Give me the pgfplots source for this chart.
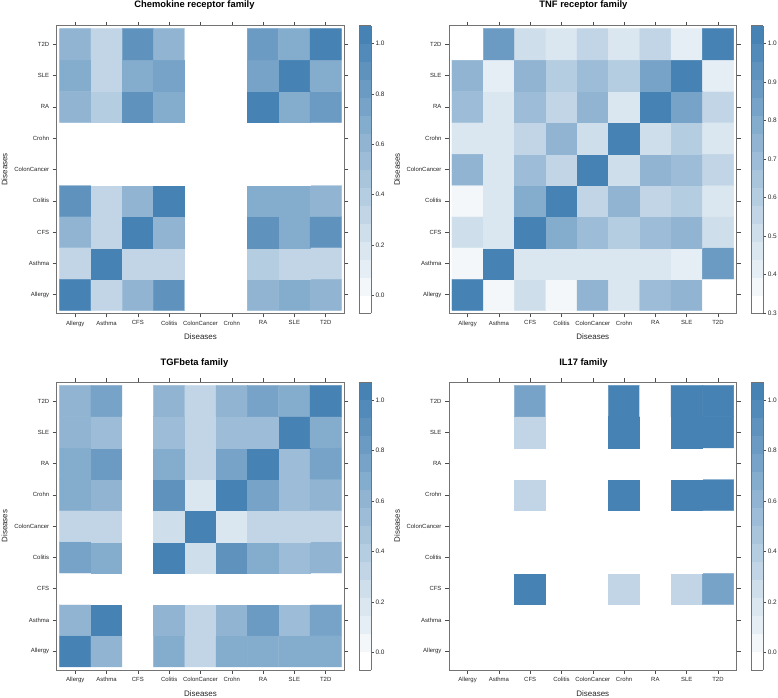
\documentclass[border=0pt]{standalone}
\usepackage{fontspec}
\setmainfont{Liberation Sans}
\usepackage{pgfplots}
\pgfplotsset{compat=1.18}
\usepackage{pgfplotstable}

% NA cells are given the lowest value (white level)
\pgfplotstableread{
x y v
0 0 1.00
1 0 0.30
2 0 0.60
3 0 0.90
4 0 -0.05
5 0 -0.05
6 0 0.60
7 0 0.65
8 0 0.60
0 1 0.30
1 1 1.00
2 1 0.30
3 1 0.35
4 1 -0.05
5 1 -0.05
6 1 0.40
7 1 0.35
8 1 0.35
0 2 0.62
1 2 0.30
2 2 1.00
3 2 0.62
4 2 -0.05
5 2 -0.05
6 2 0.90
7 2 0.70
8 2 0.88
0 3 0.90
1 3 0.35
2 3 0.62
3 3 1.00
4 3 -0.05
5 3 -0.05
6 3 0.65
7 3 0.70
8 3 0.60
0 4 -0.05
1 4 -0.05
2 4 -0.05
3 4 -0.05
4 4 -0.05
5 4 -0.05
6 4 -0.05
7 4 -0.05
8 4 -0.05
0 5 -0.05
1 5 -0.05
2 5 -0.05
3 5 -0.05
4 5 -0.05
5 5 -0.05
6 5 -0.05
7 5 -0.05
8 5 -0.05
0 6 0.60
1 6 0.40
2 6 0.88
3 6 0.65
4 6 -0.05
5 6 -0.05
6 6 1.00
7 6 0.70
8 6 0.82
0 7 0.65
1 7 0.35
2 7 0.68
3 7 0.72
4 7 -0.05
5 7 -0.05
6 7 0.72
7 7 1.00
8 7 0.68
0 8 0.60
1 8 0.35
2 8 0.88
3 8 0.60
4 8 -0.05
5 8 -0.05
6 8 0.82
7 8 0.68
8 8 1.00
}\chemo

\pgfplotstableread{
x y v
0 0 1.00
1 0 0.38
2 0 0.53
3 0 0.37
4 0 0.76
5 0 0.44
6 0 0.68
7 0 0.72
8 0 0.33
0 1 0.38
1 1 1.00
2 1 0.48
3 1 0.48
4 1 0.48
5 1 0.44
6 1 0.46
7 1 0.42
8 1 0.88
0 2 0.53
1 2 0.48
2 2 1.00
3 2 0.78
4 2 0.70
5 2 0.58
6 2 0.68
7 2 0.72
8 2 0.52
0 3 0.37
1 3 0.48
2 3 0.78
3 3 1.00
4 3 0.55
5 3 0.76
6 3 0.55
7 3 0.60
8 3 0.48
0 4 0.76
1 4 0.48
2 4 0.70
3 4 0.55
4 4 1.00
5 4 0.50
6 4 0.72
7 4 0.70
8 4 0.57
0 5 0.44
1 5 0.44
2 5 0.56
3 5 0.76
4 5 0.50
5 5 1.00
6 5 0.50
7 5 0.60
8 5 0.45
0 6 0.68
1 6 0.46
2 6 0.70
3 6 0.55
4 6 0.72
5 6 0.48
6 6 1.00
7 6 0.85
8 6 0.57
0 7 0.72
1 7 0.42
2 7 0.72
3 7 0.60
4 7 0.70
5 7 0.62
6 7 0.85
7 7 1.00
8 7 0.43
0 8 0.33
1 8 0.88
2 8 0.52
3 8 0.48
4 8 0.55
5 8 0.45
6 8 0.57
7 8 0.43
8 8 1.00
}\tnf

\pgfplotstableread{
x y v
0 0 1.00
1 0 0.60
2 0 -0.05
3 0 0.70
4 0 0.30
5 0 0.70
6 0 0.70
7 0 0.65
8 0 0.65
0 1 0.60
1 1 1.00
2 1 -0.05
3 1 0.60
4 1 0.30
5 1 0.62
6 1 0.85
7 1 0.55
8 1 0.72
0 2 -0.05
1 2 -0.05
2 2 -0.05
3 2 -0.05
4 2 -0.05
5 2 -0.05
6 2 -0.05
7 2 -0.05
8 2 -0.05
0 3 0.72
1 3 0.65
2 3 -0.05
3 3 1.00
4 3 0.22
5 3 0.90
6 3 0.70
7 3 0.52
8 3 0.58
0 4 0.30
1 4 0.30
2 4 -0.05
3 4 0.22
4 4 1.00
5 4 0.20
6 4 0.30
7 4 0.30
8 4 0.30
0 5 0.70
1 5 0.62
2 5 -0.05
3 5 0.90
4 5 0.20
5 5 1.00
6 5 0.72
7 5 0.52
8 5 0.58
0 6 0.70
1 6 0.85
2 6 -0.05
3 6 0.70
4 6 0.30
5 6 0.72
6 6 1.00
7 6 0.52
8 6 0.72
0 7 0.62
1 7 0.55
2 7 -0.05
3 7 0.52
4 7 0.30
5 7 0.52
6 7 0.52
7 7 1.00
8 7 0.65
0 8 0.62
1 8 0.72
2 8 -0.05
3 8 0.58
4 8 0.30
5 8 0.58
6 8 0.72
7 8 0.65
8 8 1.00
}\tgf

\pgfplotstableread{
x y v
0 0 -0.05
1 0 -0.05
2 0 -0.05
3 0 -0.05
4 0 -0.05
5 0 -0.05
6 0 -0.05
7 0 -0.05
8 0 -0.05
0 1 -0.05
1 1 -0.05
2 1 -0.05
3 1 -0.05
4 1 -0.05
5 1 -0.05
6 1 -0.05
7 1 -0.05
8 1 -0.05
0 2 -0.05
1 2 -0.05
2 2 1.00
3 2 -0.05
4 2 -0.05
5 2 0.35
6 2 -0.05
7 2 0.35
8 2 0.72
0 3 -0.05
1 3 -0.05
2 3 -0.05
3 3 -0.05
4 3 -0.05
5 3 -0.05
6 3 -0.05
7 3 -0.05
8 3 -0.05
0 4 -0.05
1 4 -0.05
2 4 -0.05
3 4 -0.05
4 4 -0.05
5 4 -0.05
6 4 -0.05
7 4 -0.05
8 4 -0.05
0 5 -0.05
1 5 -0.05
2 5 0.35
3 5 -0.05
4 5 -0.05
5 5 1.00
6 5 -0.05
7 5 1.00
8 5 1.00
0 6 -0.05
1 6 -0.05
2 6 -0.05
3 6 -0.05
4 6 -0.05
5 6 -0.05
6 6 -0.05
7 6 -0.05
8 6 -0.05
0 7 -0.05
1 7 -0.05
2 7 0.35
3 7 -0.05
4 7 -0.05
5 7 1.00
6 7 -0.05
7 7 1.00
8 7 1.00
0 8 -0.05
1 8 -0.05
2 8 0.72
3 8 -0.05
4 8 -0.05
5 8 1.00
6 8 -0.05
7 8 1.00
8 8 1.00
}\ilseventeen

\pgfplotsset{
  hm/.style={
    scale only axis, width=287.6bp, height=287.6bp,
    xmin=-0.595, xmax=8.595, ymin=-0.595, ymax=8.595,
    xtick={0,1,2,3,4,5,6,7,8}, ytick={0,1,2,3,4,5,6,7,8},
    xticklabels={Allergy,Asthma,CFS,Colitis,ColonCancer,Crohn,RA,SLE,T2D},
    yticklabels={Allergy,Asthma,CFS,Colitis,ColonCancer,Crohn,RA,SLE,T2D},
    tick align=outside, tick pos=both, major tick length=4bp,
    axis line style={black!55, line width=0.6pt},
    tick style={black!70, line width=0.5pt},
    ticklabel style={font=\fontsize{6}{7}\selectfont, text=black!85},
    xlabel={Diseases}, ylabel={Diseases},
    label style={font=\fontsize{8}{9}\selectfont, text=black!85},
    xlabel style={at={(axis description cs:0.5,-0.082)}, anchor=center},
    ylabel style={at={(axis description cs:-0.181,0.5)}, anchor=center},
    axis on top,
    colormap={lat}{rgb255=(255,255,255) rgb255=(243,247,250) rgb255=(230,238,245)
      rgb255=(218,230,240) rgb255=(206,222,235) rgb255=(193,213,230)
      rgb255=(181,205,225) rgb255=(169,197,220) rgb255=(156,188,215)
      rgb255=(144,180,210) rgb255=(132,172,205) rgb255=(119,163,200)
      rgb255=(107,155,195) rgb255=(95,147,190) rgb255=(82,138,185)
      rgb255=(70,130,180)},
    colormap access=piecewise constant,
    colorbar,
    colorbar style={
      at={(parent axis.north east)}, anchor=north west, xshift=6bp,
      width=12bp, scale only axis,
      ytick pos=right, yticklabel pos=right, tick align=outside,
      major tick length=3bp,
      axis line style={black!55, line width=0.6pt},
      tick style={black!70, line width=0.5pt},
      yticklabel style={font=\fontsize{6.5}{7}\selectfont, text=black!85, inner xsep=1.5bp,
        /pgf/number format/.cd, fixed, fixed zerofill, precision=1,
        assume math mode=true},
    },
  },
}

\begin{document}
\begin{tikzpicture}
\path[use as bounding box] (0,0) rectangle (778bp,698bp);

\begin{axis}[hm, at={(56.7bp,672.3bp)}, anchor=north west,
  title={Chemokine receptor family},
  title style={at={(axis description cs:0.479,1.0633)}, anchor=base, yshift=-6pt, font=\bfseries\fontsize{9.4}{11}\selectfont},
  point meta min=-0.07, point meta max=1.07,
  colorbar style={ytick={0,0.2,0.4,0.6,0.8,1}}]
\addplot[matrix plot*, mesh/cols=9, point meta=explicit] table[x=x, y=y, meta=v] {\chemo};
\end{axis}

\begin{axis}[hm, at={(449bp,672.3bp)}, anchor=north west,
  title={TNF receptor family},
  title style={at={(axis description cs:0.4675,1.0633)}, anchor=base, yshift=-6pt, font=\bfseries\fontsize{9.4}{11}\selectfont},
  point meta min=0.2995, point meta max=1.0455,
  colorbar style={ytick={0.3,0.4,0.5,0.6,0.7,0.8,0.9,1}}]
\addplot[matrix plot*, mesh/cols=9, point meta=explicit] table[x=x, y=y, meta=v] {\tnf};
\end{axis}

\begin{axis}[hm, at={(56.7bp,315.7bp)}, anchor=north west,
  title={TGFbeta family},
  title style={at={(axis description cs:0.479,1.0600)}, anchor=base, yshift=-6pt, font=\bfseries\fontsize{9.4}{11}\selectfont},
  point meta min=-0.07, point meta max=1.07,
  colorbar style={ytick={0,0.2,0.4,0.6,0.8,1}}]
\addplot[matrix plot*, mesh/cols=9, point meta=explicit] table[x=x, y=y, meta=v] {\tgf};
\end{axis}

\begin{axis}[hm, at={(449bp,315.7bp)}, anchor=north west,
  title={IL17 family},
  title style={at={(axis description cs:0.4675,1.0600)}, anchor=base, yshift=-6pt, font=\bfseries\fontsize{9.4}{11}\selectfont},
  point meta min=-0.07, point meta max=1.07,
  colorbar style={ytick={0,0.2,0.4,0.6,0.8,1}}]
\addplot[matrix plot*, mesh/cols=9, point meta=explicit] table[x=x, y=y, meta=v] {\ilseventeen};
\end{axis}
\end{tikzpicture}
\end{document}
